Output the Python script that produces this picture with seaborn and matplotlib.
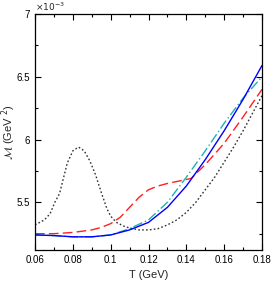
import numpy as np
import pandas as pd
import seaborn as sns
import matplotlib.pyplot as plt
from matplotlib.ticker import MultipleLocator, FuncFormatter

# values in units of 1e-3 GeV^2
T_blue = [0.06, 0.07, 0.08, 0.09, 0.10, 0.11, 0.12, 0.13, 0.14, 0.15, 0.16, 0.17, 0.18]
M_blue = [5.24, 5.235, 5.225, 5.225, 5.24, 5.28, 5.34, 5.46, 5.63, 5.84, 6.07, 6.32, 6.59]

T_cyan = [0.06, 0.07, 0.08, 0.09, 0.10, 0.11, 0.12, 0.13, 0.14, 0.15, 0.16, 0.17, 0.18]
M_cyan = [5.24, 5.235, 5.225, 5.225, 5.24, 5.29, 5.36, 5.50, 5.70, 5.91, 6.13, 6.33, 6.50]

T_red = [0.06, 0.07, 0.08, 0.085, 0.09, 0.095, 0.10, 0.105, 0.11, 0.115, 0.12, 0.125,
         0.13, 0.1425, 0.15, 0.16, 0.17, 0.18]
M_red = [5.25, 5.25, 5.26, 5.27, 5.28, 5.30, 5.33, 5.38, 5.46, 5.54, 5.60, 5.63,
         5.65, 5.69, 5.80, 5.97, 6.18, 6.40]

T_black = [0.06, 0.065, 0.068, 0.0705, 0.073, 0.077, 0.080, 0.083, 0.086, 0.089, 0.092,
           0.095, 0.098, 0.100, 0.103, 0.107, 0.110, 0.115, 0.120, 0.125, 0.130, 0.135,
           0.140, 0.145, 0.150, 0.155, 0.160, 0.165, 0.170, 0.175, 0.180]
M_black = [5.32, 5.36, 5.41, 5.50, 5.57, 5.81, 5.91, 5.94, 5.91, 5.83, 5.72,
           5.58, 5.45, 5.39, 5.34, 5.31, 5.295, 5.28, 5.28, 5.29, 5.32, 5.36,
           5.42, 5.50, 5.60, 5.70, 5.82, 5.94, 6.07, 6.21, 6.35]

sns.set_style("ticks")
plt.rcParams['font.family'] = ['Liberation Sans', 'DejaVu Sans']
plt.rcParams['mathtext.fontset'] = 'dejavusans'

fig = plt.figure(figsize=(2.76, 2.92), dpi=100)
ax = fig.add_axes([0.1268, 0.1438, 0.8225, 0.8082])

sns.lineplot(x=T_black, y=np.array(M_black) * 1e-3, ax=ax, color='#333333', lw=1.0,
             linestyle=(0, (1.2, 1.6)))
sns.lineplot(x=T_red, y=np.array(M_red) * 1e-3, ax=ax, color='#ff2020', lw=1.0,
             linestyle=(0, (7, 3)))
sns.lineplot(x=T_cyan, y=np.array(M_cyan) * 1e-3, ax=ax, color='#20b0b0', lw=1.0,
             linestyle=(0, (7, 2, 1, 2)))
sns.lineplot(x=T_blue, y=np.array(M_blue) * 1e-3, ax=ax, color='#0000ff', lw=1.0)

ax.set_xlim(0.06, 0.18)
ax.set_ylim(5.12e-3, 7.0e-3)
ax.xaxis.set_major_locator(MultipleLocator(0.02))
ax.xaxis.set_minor_locator(MultipleLocator(0.01))
ax.yaxis.set_major_locator(MultipleLocator(0.5e-3))
ax.yaxis.set_minor_locator(MultipleLocator(0.25e-3))
ax.xaxis.set_major_formatter(FuncFormatter(lambda v, p: f'{v:g}'))
ax.yaxis.set_major_formatter(FuncFormatter(lambda v, p: f'{round(v * 1e3, 3):g}'))
ax.tick_params(which='both', direction='in', top=True, right=True, labelsize=7,
               width=0.8, colors='black')
ax.tick_params(which='major', length=4)
ax.tick_params(which='minor', length=2.5)
for s in ax.spines.values():
    s.set_linewidth(0.9)
    s.set_color('black')

ax.set_xlabel('T (GeV)', fontsize=8, labelpad=4)
ax.set_ylabel(r'$\mathcal{M}$ (GeV $^2$)', fontsize=8)
ax.yaxis.set_label_coords(-0.075, 0.5)
ax.text(0.0, 1.005, r'$\times10^{-3}$', transform=ax.transAxes, fontsize=6.5,
        ha='left', va='bottom')

plt.savefig('out.png', dpi=100)
